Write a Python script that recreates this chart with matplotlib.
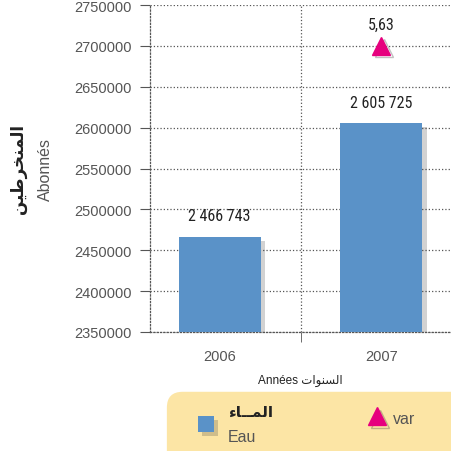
import matplotlib.pyplot as plt
import matplotlib.patheffects as pe
from matplotlib import font_manager
from matplotlib.patches import FancyBboxPatch, Rectangle
from matplotlib.lines import Line2D
from matplotlib.ticker import FixedLocator

# subscribers per year and the variation (%)
years = ['2006', '2007']
abonnes = [2466743, 2605725]
var_years = [1]
var_values = [5.63]
bar_labels = ['2 466 743', '2 605 725']
var_labels = ['5,63']

yticks = [2350000, 2400000, 2450000, 2500000, 2550000, 2600000, 2650000, 2700000, 2750000]

blue = '#5A92C8'
pink = '#E6007E'
grey = '#555555'
dark = '#222222'

# arabic words written with presentation forms, in display order
ar_abonnes = '\uFEE6\uFEF4\uFEC3\uFEAE\uFEA8\uFEE8\uFEE4\uFEDF\uFE8D'
ar_annees = '\uFE95\uFE8D\uFEEE\uFEE8\uFEB4\uFEDF\uFE8D'
ar_eau = '\uFE80\uFE8E\u0640\u0640\uFEE4\uFEDF\uFE8D'

# narrow face for the value labels, if one is around
names = {f.name for f in font_manager.fontManager.ttflist}
narrow = 'DejaVu Sans'
for cand in ['Liberation Sans Narrow', 'Roboto Condensed', 'DejaVu Sans Condensed', 'Open Sans Condensed']:
    if cand in names:
        narrow = cand
        break
plain = ['Liberation Sans', 'DejaVu Sans']

fig = plt.figure(figsize=(4.51, 4.52), dpi=100)
ax = fig.add_axes([0.3326, 0.2633, 0.6674, 0.7234])

shadow = [pe.SimplePatchShadow(offset=(3, -3), alpha=0.22, shadow_rgbFace='#333333'), pe.Normal()]
line_shadow = [pe.SimpleLineShadow(offset=(2, -2), alpha=0.3, shadow_color='#333333'), pe.Normal()]

x = list(range(len(years)))
bars = ax.bar(x, [v - yticks[0] for v in abonnes], bottom=yticks[0], width=0.506,
              color=blue, zorder=3)
for b in bars:
    b.set_path_effects(shadow)

for xi, v, lab in zip(x, abonnes, bar_labels):
    ax.text(xi, v + 16000, lab, ha='center', va='bottom', fontsize=11.5,
            family=narrow, stretch='condensed', color=dark, zorder=5)

ax.set_xlim(-0.43, 1.43)
ax.set_ylim(2350000, 2750000)
ax.yaxis.set_major_locator(FixedLocator(yticks))
ax.set_yticklabels([str(t) for t in yticks], family=plain)
ax.set_xticks(x)
ax.set_xticklabels(years, family=plain)
ax.xaxis.set_minor_locator(FixedLocator([0.5]))

ax.grid(axis='y', which='major', linestyle=':', color=grey, linewidth=0.9, zorder=0)
ax.grid(axis='x', which='minor', linestyle=':', color=grey, linewidth=0.9, zorder=0)
ax.tick_params(axis='y', length=7, color=grey, labelcolor=grey, labelsize=10.5, pad=6)
ax.tick_params(axis='x', which='major', length=0, labelcolor=grey, labelsize=10.5, pad=12)
ax.tick_params(axis='x', which='minor', length=7, color=grey)
for side in ['top', 'right']:
    ax.spines[side].set_visible(False)
for side in ['left', 'bottom']:
    ax.spines[side].set_linestyle(':')
    ax.spines[side].set_color(grey)
    ax.spines[side].set_linewidth(0.9)

# variation on its own scale
ax2 = ax.twinx()
ax2.set_ylim(0, 6.43)
ax2.axis('off')
tri = ax2.plot(var_years, var_values, marker='^', markersize=13, color=pink,
               linestyle='none', zorder=4)[0]
tri.set_path_effects(line_shadow)
for xi, v, lab in zip(var_years, var_values, var_labels):
    ax2.text(xi, v + 0.27, lab, ha='center', va='bottom', fontsize=11.5,
             family=narrow, stretch='condensed', color=dark)

# axis titles
fig.text(0.1, 0.625, 'Abonnés', rotation=90, ha='center', va='center', fontsize=11.5,
         color=grey, family=plain)
fig.text(0.04, 0.625, ar_abonnes, rotation=90, ha='center', va='center', fontsize=12,
         fontweight='bold', color=dark, family='DejaVu Sans')
fig.text(0.665, 0.158, 'Années ' + ar_annees, ha='center', va='center', fontsize=8.5,
         color=dark, family=plain)

# legend panel
box = FancyBboxPatch((0.37, -0.05), 0.7, 0.181, boxstyle='round,pad=0,rounding_size=0.035',
                     transform=fig.transFigure, facecolor='#FCE5A5', edgecolor='none', zorder=1)
fig.patches.append(box)
sq = Rectangle((0.439, 0.042), 0.0355, 0.0354, transform=fig.transFigure,
               facecolor=blue, edgecolor='none', zorder=3)
sq.set_path_effects(shadow)
fig.patches.append(sq)
fig.text(0.505, 0.087, ar_eau, ha='left', va='center', fontsize=11, color=dark,
         fontweight='bold', family='DejaVu Sans')
fig.text(0.505, 0.032, 'Eau', ha='left', va='center', fontsize=11.5, color=grey, family=plain)
leg_tri = Line2D([0.836], [0.077], marker='^', markersize=13, color=pink,
                 linestyle='none', transform=fig.transFigure, zorder=3)
leg_tri.set_path_effects(line_shadow)
fig.add_artist(leg_tri)
fig.text(0.871, 0.072, 'var', ha='left', va='center', fontsize=11.5, color=grey, family=plain)

fig.savefig('out.png', dpi=100)
